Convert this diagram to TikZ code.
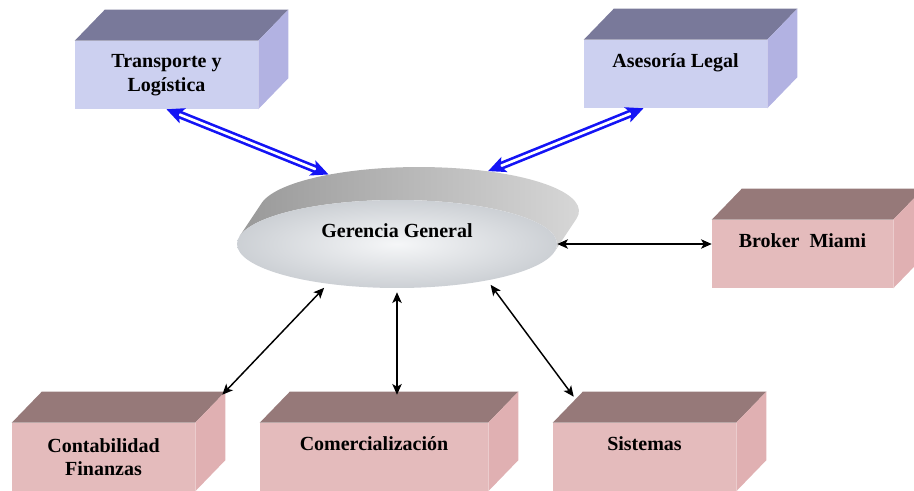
\documentclass[tikz,border=0pt]{standalone}
\usepackage{fontspec}
\setmainfont{Liberation Serif}
\usetikzlibrary{shapes.geometric,arrows.meta,positioning,calc}
\definecolor{lilafrente}{RGB}{204,208,240}
\definecolor{lilatapa}{RGB}{121,121,154}
\definecolor{lilalado}{RGB}{178,178,226}
\definecolor{rosafrente}{RGB}{228,187,188}
\definecolor{rosatapa}{RGB}{150,121,121}
\definecolor{rosalado}{RGB}{224,176,178}
\definecolor{marmol}{RGB}{222,226,231}
\definecolor{azulflecha}{RGB}{20,20,245}

% top and side faces of a box, from the front face node
\newcommand{\caraslado}[3]{%
  \fill[#2] (#1.north west) -- ++(30,-31) -- ($(#1.north east)+(30,-31)$) -- (#1.north east) -- cycle;
  \fill[#3] (#1.north east) -- ++(30,-31) -- ($(#1.south east)+(30,-31)$) -- (#1.south east) -- cycle;}

\begin{document}
\begin{tikzpicture}[x=0.75pt,y=-0.75pt,
    caja/.style={rectangle, inner sep=0pt, minimum width=137.25pt, minimum height=51pt,
      font=\fontsize{15}{17.5}\selectfont\bfseries, align=center},
    textoalto/.style={text height=10pt, text depth=20pt},
    flechaazul/.style={azulflecha, double=white, line width=2pt, double distance=2pt,
      {Stealth[length=13pt,width=12pt,inset=3pt]}-{Stealth[length=13pt,width=12pt,inset=3pt]}},
    flechanegra/.style={black, line width=1.1pt,
      {Stealth[length=8pt,width=7pt,inset=2pt]}-{Stealth[length=8pt,width=7pt,inset=2pt]}}]
    \useasboundingbox (0,0) rectangle (914,491);

    % Upper boxes
    \node[caja, fill=lilafrente] (trans) at (166.5,75) {Transporte y\\Log\'istica};
    \caraslado{trans}{lilatapa}{lilalado}
    \node[caja, textoalto, fill=lilafrente] (ases) at (675.5,74) {Asesor\'ia Legal};
    \caraslado{ases}{lilatapa}{lilalado}

    % Broker
    \node[caja, textoalto, fill=rosafrente, minimum width=135.75pt] (broker) at (802.5,254) {Broker\ \ Miami};
    \caraslado{broker}{rosatapa}{rosalado}

    % Lower boxes
    \node[caja, fill=rosafrente] (conta) at (103.5,457) {Contabilidad\\Finanzas};
    \caraslado{conta}{rosatapa}{rosalado}
    \node[caja, textoalto, fill=rosafrente, minimum width=171pt] (comer) at (374,457) {Comercializaci\'on};
    \caraslado{comer}{rosatapa}{rosalado}
    \node[caja, textoalto, fill=rosafrente] (sist) at (644.5,457) {Sistemas};
    \caraslado{sist}{rosatapa}{rosalado}

    % Gerencia: raised disc (rim, then face)
    \node[ellipse, minimum width=240pt, minimum height=66pt, inner sep=0pt] (gerb) at (419,211) {};
    \shade[left color=black!40, middle color=black!42, right color=black!15]
      (239.6,236.1) -- (261.6,203.1) arc [start angle=190.4, end angle=370.4, x radius=160, y radius=44]
      -- (554.4,251.9) arc [start angle=10.4, end angle=-169.6, x radius=160, y radius=44] -- cycle;
    \node[ellipse, textoalto, minimum width=240pt, minimum height=66pt, inner sep=0pt,
      inner color=marmol!30!white, outer color=marmol!92!black,
      font=\fontsize{15}{17.5}\selectfont\bfseries] (ger) at (397,244) {Gerencia General};

    % End points on the box tops
    \coordinate (ases-pie) at ($(ases.south)+(-32,0)$);
    \coordinate (conta-esq) at ($(conta.north east)+(27,-28)$);
    \coordinate (comer-tapa) at ($(comer.north)+(23,-28)$);
    \coordinate (sist-esq) at ($(sist.north west)+(21,-26)$);

    % Blue links
    \draw[flechaazul] (trans.south) -- (gerb.158);
    \draw[flechaazul] (ases-pie) -- (gerb.30);

    % Black links
    \draw[flechanegra] (ger.east) -- (ger.east -| broker.west);
    \draw[flechanegra, shorten <=4pt] (ger.210) -- (conta-esq);
    \draw[flechanegra, shorten <=3pt] (ger.south) -- (ger.south |- comer-tapa);
    \draw[flechanegra, shorten <=4pt] (ger.338) -- (sist-esq);
\end{tikzpicture}
\end{document}
